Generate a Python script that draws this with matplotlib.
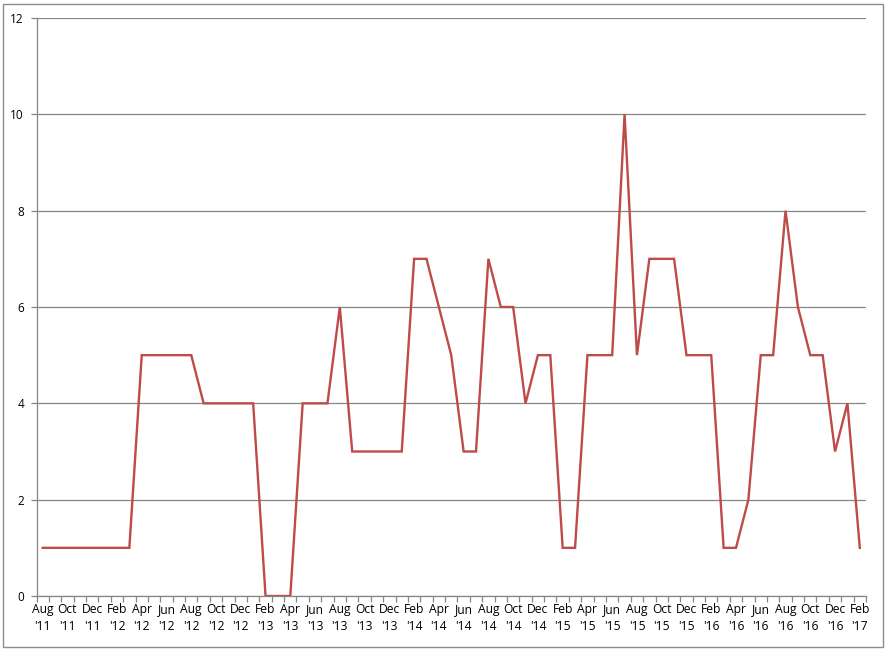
import matplotlib
matplotlib.use("Agg")
import matplotlib.pyplot as plt
from matplotlib.patches import Rectangle
from matplotlib.ticker import FixedLocator

months = ["Aug", "Sep", "Oct", "Nov", "Dec", "Jan", "Feb", "Mar", "Apr", "May", "Jun", "Jul"]
start_year = 11
n_months = 67
categories = []
for i in range(n_months):
    m = months[i % 12]
    y = start_year + (i + 7) // 12
    categories.append(f"{m}\n'{y:02d}")

values = [1, 1, 1, 1, 1, 1, 1, 1,
          5, 5, 5, 5, 5,
          4, 4, 4, 4, 4,
          0, 0, 0,
          4, 4, 4,
          6,
          3, 3, 3, 3, 3,
          7, 7, 6, 5, 3, 3, 7, 6, 6, 4, 5, 5, 1, 1,
          5, 5, 5, 10, 5, 7, 7, 7, 5, 5, 5,
          1, 1, 2, 5, 5, 8, 6, 5, 5, 3, 4, 1]

yticks = [0, 2, 4, 6, 8, 10, 12]

plt.rcParams['font.family'] = ['Open Sans', 'DejaVu Sans']
fig = plt.figure(figsize=(8.87, 6.5), dpi=100)
ax = fig.add_axes([36.5 / 887, 54 / 650, (866 - 36.5) / 887, (596 - 18) / 650])

x = list(range(n_months))
ax.plot(x, values, color="#BE4B48", linewidth=1.7, solid_joinstyle="miter")

ax.set_xlim(-0.5, n_months - 0.5)
ax.set_ylim(0, 12)
ax.set_yticks(yticks)
ax.set_yticklabels([str(v) for v in yticks], fontsize=8.5)
ax.yaxis.grid(True, color="#868686", linewidth=0.9)
ax.set_axisbelow(True)

ax.set_xticks(x[::2])
ax.set_xticklabels(categories[::2], fontsize=8.7, linespacing=1.4)
ax.xaxis.set_minor_locator(FixedLocator([i - 0.5 for i in range(n_months + 1)]))
ax.tick_params(axis='x', which='major', length=0, pad=5)
ax.tick_params(axis='x', which='minor', length=4, color="#868686", width=0.9)
ax.tick_params(axis='y', length=4, color="#868686", width=0.9, pad=5)

for s in ["top", "right"]:
    ax.spines[s].set_visible(False)
for s in ["left", "bottom"]:
    ax.spines[s].set_color("#868686")
    ax.spines[s].set_linewidth(0.9)

fig.patches.append(Rectangle((3.5 / 887, 3.5 / 650), 880 / 887, 643 / 650,
                             transform=fig.transFigure, fill=False,
                             edgecolor="#8c8c8c", linewidth=1))

fig.savefig("out.png", dpi=100)
